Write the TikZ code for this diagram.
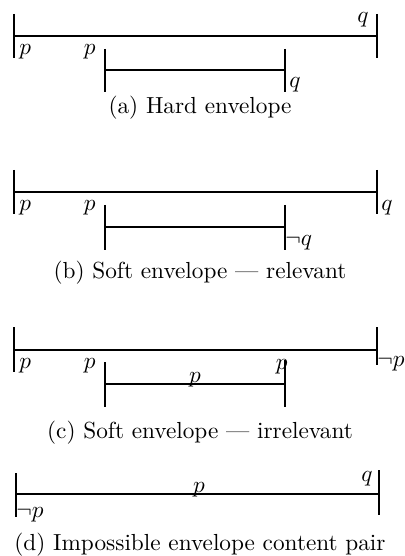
\documentclass[tikz,border=0pt]{standalone}
\begin{document}
\begin{tikzpicture}[
    x = 0.43pt,
    y = -0.43pt,
    seg/.style = {
        line width = 0.8pt
    },
    bar/.style = {
        line width = 0.65pt
    },
    lab/.style = {
        inner sep = 0pt
    },
    subcap/.style = {
        inner sep = 0pt,
        anchor    = base
    }
]

\useasboundingbox (0,0) rectangle (404,556);

% ================================================================
%  (a) HARD ENVELOPE
%  outer span x = 14 .. 377 ; inner span x = 105 .. 285
% ================================================================

\coordinate (aL) at (14,36);
\coordinate (aR) at (377,36);
\coordinate (aiL) at (105,70);
\coordinate (aiR) at (285,70);

\draw[seg] (aL) -- (aR);
\draw[bar] (aL) ++(0,-22) -- ++(0,44);
\draw[bar] (aR) ++(0,-22) -- ++(0,44);
\draw[seg] (aiL) -- (aiR);
\draw[bar] (aiL) ++(0,-21) -- ++(0,43);
\draw[bar] (aiR) ++(0,-21) -- ++(0,43);

\node[lab, anchor=base west] (pa1) at (19,55)  {$p$};
\node[lab, anchor=base east] (qa1) at (369,23) {$q$};
\node[lab, anchor=base east] (pa2) at (96,55)  {$p$};
\node[lab, anchor=base west] (qa2) at (289,88) {$q$};

\node[subcap] (capa) at (200,114) {(a) Hard envelope};

% ================================================================
%  (b) SOFT ENVELOPE -- RELEVANT
% ================================================================

\coordinate (bL) at (14,192);
\coordinate (bR) at (377,192);
\coordinate (biL) at (105,227);
\coordinate (biR) at (285,227);

\draw[seg] (bL) -- (bR);
\draw[bar] (bL) ++(0,-22) -- ++(0,44);
\draw[bar] (bR) ++(0,-22) -- ++(0,44);
\draw[seg] (biL) -- (biR);
\draw[bar] (biL) ++(0,-22) -- ++(0,45);
\draw[bar] (biR) ++(0,-22) -- ++(0,45);

\node[lab, anchor=base west] (pb1) at (19,211)  {$p$};
\node[lab, anchor=base east] (pb2) at (96,211)  {$p$};
\node[lab, anchor=base west] (qb1) at (381,211) {$q$};
\node[lab, anchor=base west] (qb2) at (285,246) {$\neg q$};

\node[subcap] (capb) at (200,278) {(b) Soft envelope --- relevant};

% ================================================================
%  (c) SOFT ENVELOPE -- IRRELEVANT
% ================================================================

\coordinate (cL) at (14,350);
\coordinate (cR) at (377,350);
\coordinate (ciL) at (105,384);
\coordinate (ciR) at (285,384);

\draw[seg] (cL) -- (cR);
\draw[bar] (cL) ++(0,-23) -- ++(0,45);
\draw[bar] (cR) ++(0,-23) -- ++(0,38);
\draw[seg] (ciL) -- (ciR);
\draw[bar] (ciL) ++(0,-22) -- ++(0,45);
\draw[bar] (ciR) ++(0,-24) -- ++(0,47);

\node[lab, anchor=base west] (pc1) at (19,368)  {$p$};
\node[lab, anchor=base east] (pc2) at (96,368)  {$p$};
\node[lab, anchor=base west] (pc3) at (377,366) {$\neg p$};
\node[lab, anchor=base]      (pc4) at (195,382) {$p$};
\node[lab, anchor=base east] (pc5) at (288,369) {$p$};

\node[subcap] (capc) at (200,438) {(c) Soft envelope --- irrelevant};

% ================================================================
%  (d) IMPOSSIBLE PAIR
% ================================================================

\coordinate (dL) at (16,494);
\coordinate (dR) at (379,494);

\draw[seg] (dL) -- (dR);
\draw[bar] (dL) ++(0,-21) -- ++(0,44);
\draw[bar] (dR) ++(0,-24) -- ++(0,45);

\node[lab, anchor=base west] (pd1) at (16,517)  {$\neg p$};
\node[lab, anchor=base]      (pd2) at (199,492) {$p$};
\node[lab, anchor=base east] (qd1) at (373,481) {$q$};

\node[subcap] (capd) at (200,550) {(d) Impossible envelope content pair};

\end{tikzpicture}
\end{document}
